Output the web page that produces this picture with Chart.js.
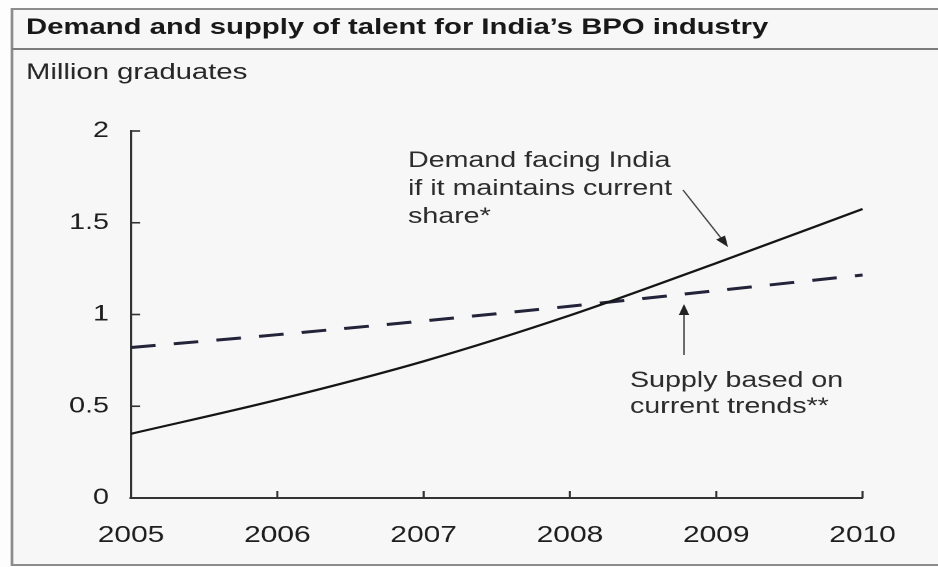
<!DOCTYPE html>
<html>
<head>
<meta charset="utf-8">
<script src="https://cdn.jsdelivr.net/npm/chart.js@4.4.1/dist/chart.umd.min.js"></script>
<style>
  html, body { margin: 0; padding: 0; background: #fdfdfd; overflow: hidden; }
  /* the scanned original is stretched sideways, so the chart is drawn narrow and widened */
  #wrap { position: absolute; left: 0; top: 0; width: 721px; height: 567px;
          transform: scaleX(1.30097); transform-origin: 0 0; }
</style>
</head>
<body>
<div id="wrap"><canvas id="chart"></canvas></div>
<script>
// data
const years = ['2005', '2006', '2007', '2008', '2009', '2010'];
const demand = [0.35, 0.535, 0.745, 0.995, 1.28, 1.575];   // million graduates
const supply = [0.82, 0.89, 0.965, 1.045, 1.13, 1.215];
const yTicks = [0, 0.5, 1, 1.5, 2];

const titleText = 'Demand and supply of talent for India\u2019s BPO industry';
const unitText = 'Million graduates';
const demandNote = ['Demand facing India', 'if it maintains current', 'share*'];
const supplyNote = ['Supply based on', 'current trends**'];

const SX = 938 / 721;          // horizontal stretch
const FONT = '"Liberation Sans", Arial, sans-serif';

// page pixel -> canvas pixel (x only)
const px = x => x / SX;

function arrow(ctx, x1, y1, x2, y2) {
  x1 = px(x1); x2 = px(x2);
  const a = Math.atan2(y2 - y1, x2 - x1);
  const len = 11, w = 4;
  ctx.beginPath();
  ctx.moveTo(x1, y1);
  ctx.lineTo(x2 - Math.cos(a) * len, y2 - Math.sin(a) * len);
  ctx.stroke();
  ctx.beginPath();
  ctx.moveTo(x2, y2);
  ctx.lineTo(x2 - Math.cos(a) * len - Math.sin(a) * w, y2 - Math.sin(a) * len + Math.cos(a) * w);
  ctx.lineTo(x2 - Math.cos(a) * len + Math.sin(a) * w, y2 - Math.sin(a) * len - Math.cos(a) * w);
  ctx.closePath();
  ctx.fill();
}

const framePlugin = {
  id: 'framePlugin',
  beforeDraw(chart) {
    const { ctx, width, height } = chart;
    const l = px(12);
    ctx.save();
    ctx.fillStyle = '#fdfdfd';
    ctx.fillRect(0, 0, width, height);
    ctx.fillStyle = '#f7f7f7';
    ctx.fillRect(l, 9, width - l, 556);

    // box and title rule
    ctx.strokeStyle = '#8c8c8c';
    ctx.lineWidth = 2;
    ctx.beginPath();
    ctx.moveTo(width + 5, 9);
    ctx.lineTo(l, 9);
    ctx.lineTo(l, 565);
    ctx.lineTo(width + 5, 565);
    ctx.stroke();
    ctx.strokeStyle = '#7c7c7c';
    ctx.beginPath();
    ctx.moveTo(l, 49);
    ctx.lineTo(width + 5, 49);
    ctx.stroke();
    ctx.restore();
  },
  afterDraw(chart) {
    const { ctx, chartArea } = chart;
    const xs = chart.scales.x, ys = chart.scales.y;
    ctx.save();

    // title + unit
    ctx.fillStyle = '#181818';
    ctx.textBaseline = 'alphabetic';
    ctx.font = 'bold 22.5px ' + FONT;
    ctx.fillText(titleText, px(26), 34);
    ctx.fillStyle = '#262626';
    ctx.font = '22.5px ' + FONT;
    ctx.fillText(unitText, px(26), 79);

    // tick marks point into the plot
    ctx.strokeStyle = '#333';
    ctx.lineWidth = 1.6;
    yTicks.slice(1).forEach(v => {
      const y = ys.getPixelForValue(v);
      ctx.beginPath();
      ctx.moveTo(chartArea.left, y);
      ctx.lineTo(chartArea.left + px(9), y);
      ctx.stroke();
    });
    years.slice(1).forEach((_, i) => {
      const x = xs.getPixelForValue(i + 1);
      ctx.beginPath();
      ctx.moveTo(x, chartArea.bottom);
      ctx.lineTo(x, chartArea.bottom - 7);
      ctx.stroke();
    });

    // notes
    ctx.fillStyle = '#2c2c2c';
    ctx.font = '22px ' + FONT;
    demandNote.forEach((t, i) => ctx.fillText(t, px(408), 167 + i * 28));
    supplyNote.forEach((t, i) => ctx.fillText(t, px(630), 387 + i * 26));

    ctx.strokeStyle = '#444';
    ctx.fillStyle = '#222';
    ctx.lineWidth = 1.2;
    arrow(ctx, 683, 190, 728, 247);
    arrow(ctx, 684, 355, 684, 304);

    ctx.restore();
  }
};

const ctx = document.getElementById('chart').getContext('2d');
new Chart(ctx, {
  type: 'line',
  data: {
    labels: years,
    datasets: [
      {
        label: 'Demand',
        data: demand,
        borderColor: '#151515',
        borderWidth: 2.2,
        pointRadius: 0,
        tension: 0.35,
        cubicInterpolationMode: 'monotone'
      },
      {
        label: 'Supply',
        data: supply,
        borderColor: '#23233a',
        borderWidth: 3,
        borderDash: [19, 14],
        pointRadius: 0,
        tension: 0.3,
        cubicInterpolationMode: 'monotone'
      }
    ]
  },
  options: {
    responsive: true,
    maintainAspectRatio: false,
    animation: false,
    devicePixelRatio: 2,
    layout: { padding: { top: 131, right: 58, left: 0, bottom: 0 } },
    plugins: { legend: { display: false }, tooltip: { enabled: false } },
    scales: {
      x: {
        offset: false,
        grid: { display: false },
        border: { display: true, color: '#333', width: 2 },
        ticks: { color: '#1e1e1e', font: { family: FONT, size: 23 }, padding: 16, maxRotation: 0 },
        afterFit(scale) { scale.height = 69; }
      },
      y: {
        min: 0,
        max: 2,
        grid: { display: false },
        border: { display: true, color: '#333', width: 1.6 },
        ticks: {
          stepSize: 0.5,
          color: '#1e1e1e',
          font: { family: FONT, size: 22 },
          padding: 9,
          callback: v => String(v)
        },
        afterFit(scale) { scale.width = px(131); }
      }
    }
  },
  plugins: [framePlugin]
});
</script>
</body>
</html>
